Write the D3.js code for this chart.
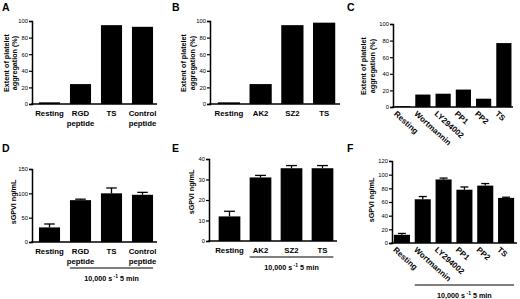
<!DOCTYPE html>
<html>
<head>
<meta charset="utf-8">
<script src="https://cdnjs.cloudflare.com/ajax/libs/d3/7.8.5/d3.min.js"></script>
<style>
  body { margin: 0; background: #fff; }
  svg { display: block; font-family: "Liberation Sans", Arial, sans-serif; }
</style>
</head>
<body>
<svg id="chart" width="520" height="299"></svg>
<script>
// ---- data ----
const catsA = [["Resting"], ["RGD", "peptide"], ["TS"], ["Control", "peptide"]]
const valsA = [2, 24, 95, 93]

const catsB = [["Resting"], ["AK2"], ["SZ2"], ["TS"]]
const valsB = [2, 24, 95, 98]

const catsC = ["Resting", "Wortmannin", "LY294002", "PP1", "PP2", "TS"]
const valsC = [1, 15, 16, 21, 10, 77]

const catsD = catsA
const valsD = [30, 86, 100, 97]
const errD = [7, 2, 11, 5]

const catsE = catsB
const valsE = [12, 31, 35.5, 35.5]
const errE = [2.5, 1, 1.3, 1.3]

const catsF = catsC
const valsF = [12, 64, 93, 78, 84, 66]
const errF = [2, 4, 2, 4, 3, 1]

const ticksAgg = [0, 20, 40, 60, 80, 100]
const ticksD = [0, 50, 100, 150]
const ticksE = [0, 10, 20, 30, 40]
const ticksF = [0, 20, 40, 60, 80, 100, 120]

const aggTitle = ["Extent of platelet", "aggregation (%)"]
const sgpTitle = ["sGPVI ng/mL"]
const shearText = "10,000 s"

const svg = d3.select("#chart")

function drawPanel(p) {
  const g = svg.append("g")

  const x = d3.scaleBand()
    .domain(d3.range(p.vals.length))
    .range([p.x0, p.x1])
    .paddingInner(p.pad)
    .paddingOuter(p.pad / 2)

  const y = d3.scaleLinear()
    .domain([0, p.ymax])
    .range([p.yBottom, p.yTop])

  // panel letter
  g.append("text")
    .attr("x", p.lx).attr("y", p.ly)
    .attr("font-size", 10.5).attr("font-weight", "bold")
    .text(p.letter)

  // bars
  g.selectAll("rect.bar")
    .data(p.vals)
    .enter()
    .append("rect")
      .attr("x", (d, i) => x(i))
      .attr("y", d => y(d))
      .attr("width", x.bandwidth())
      .attr("height", d => y(0) - y(d))
      .attr("fill", "#000")

  // error bars (upper only, GraphPad style)
  if (p.err) {
    const eg = g.append("g").attr("stroke", "#000").attr("stroke-width", 1.3)
    p.vals.forEach((v, i) => {
      const cx = x(i) + x.bandwidth() / 2
      const cw = x.bandwidth() * 0.25
      eg.append("line").attr("x1", cx).attr("x2", cx)
        .attr("y1", y(v)).attr("y2", y(v + p.err[i]))
      eg.append("line").attr("x1", cx - cw).attr("x2", cx + cw)
        .attr("y1", y(v + p.err[i])).attr("y2", y(v + p.err[i]))
    })
  }

  // y axis
  const ya = g.append("g")
    .attr("transform", "translate(" + p.axisX + ",0)")
    .call(d3.axisLeft(y).tickValues(p.ticks).tickSize(3).tickPadding(1))
  ya.select(".domain").attr("stroke-width", 1.5)
  ya.selectAll(".tick line").attr("stroke-width", 1.2)
  ya.selectAll("text").attr("font-size", 5.8).attr("font-family", "Liberation Sans, Arial, sans-serif")

  // x axis line
  g.append("line")
    .attr("x1", p.axisX - 0.75).attr("x2", p.axisEnd)
    .attr("y1", y(0)).attr("y2", y(0))
    .attr("stroke", "#000").attr("stroke-width", 1.5)

  // category labels
  if (p.rotate) {
    p.cats.forEach((c, i) => {
      const cx = x(i) + x.bandwidth() / 2 - 6
      g.append("text")
        .attr("transform", "translate(" + cx + "," + (y(0) + 4) + ") rotate(42)")
        .attr("font-size", 8).attr("font-weight", "bold")
        .attr("dy", "0.6em")
        .text(c)
    })
  } else {
    p.cats.forEach((c, i) => {
      const cx = x(i) + x.bandwidth() / 2
      c.forEach((line, k) => {
        g.append("text")
          .attr("x", cx).attr("y", y(0) + 12 + k * 10)
          .attr("text-anchor", "middle")
          .attr("font-size", 7.8).attr("font-weight", "bold")
          .text(line)
      })
    })
  }

  // y title
  p.title.forEach((line, k) => {
    g.append("text")
      .attr("transform", "translate(" + (p.titleX + k * 8.5) + "," + p.titleY + ") rotate(-90)")
      .attr("text-anchor", "middle")
      .attr("font-size", 7.2).attr("font-weight", "bold")
      .text(line)
  })

  // shear bracket
  if (p.bracket) {
    const bx0 = x(p.bracket[0])
    const bx1 = x(p.bracket[1]) + x.bandwidth()
    g.append("line")
      .attr("x1", bx0).attr("x2", bx1)
      .attr("y1", p.bracketY).attr("y2", p.bracketY)
      .attr("stroke", "#000").attr("stroke-width", 1.2)
    const t = g.append("text")
      .attr("x", (bx0 + bx1) / 2).attr("y", p.bracketY + 13)
      .attr("text-anchor", "middle")
      .attr("font-size", 7.2).attr("font-weight", "bold")
    t.append("tspan").text(shearText)
    t.append("tspan").attr("dy", -3).attr("font-size", 5).text(" -1")
    t.append("tspan").attr("dy", 3).text(" 5 min")
  }
}

drawPanel({ letter: "A", lx: 2, ly: 11, cats: catsA, vals: valsA, ymax: 100, ticks: ticksAgg,
  x0: 34, x1: 158, pad: 0.32, axisX: 32, axisEnd: 157, yBottom: 104, yTop: 21,
  title: aggTitle, titleX: 8.5, titleY: 63 })

drawPanel({ letter: "B", lx: 172, ly: 11, cats: catsB, vals: valsB, ymax: 100, ticks: ticksAgg,
  x0: 213, x1: 340, pad: 0.3, axisX: 210, axisEnd: 340, yBottom: 104, yTop: 21,
  title: aggTitle, titleX: 186, titleY: 63 })

drawPanel({ letter: "C", lx: 347, ly: 11, cats: catsC, vals: valsC, ymax: 100, ticks: ticksAgg,
  x0: 392.5, x1: 514, pad: 0.25, axisX: 393, axisEnd: 513, yBottom: 107, yTop: 24,
  title: aggTitle, titleX: 366, titleY: 66, rotate: true })

drawPanel({ letter: "D", lx: 2, ly: 152, cats: catsD, vals: valsD, err: errD, ymax: 150, ticks: ticksD,
  x0: 34, x1: 158, pad: 0.32, axisX: 32, axisEnd: 157, yBottom: 242, yTop: 169,
  title: sgpTitle, titleX: 16, titleY: 202, bracket: [1, 3], bracketY: 268 })

drawPanel({ letter: "E", lx: 172, ly: 152, cats: catsE, vals: valsE, err: errE, ymax: 40, ticks: ticksE,
  x0: 214, x1: 338, pad: 0.3, axisX: 209, axisEnd: 337, yBottom: 241, yTop: 159,
  title: sgpTitle, titleX: 194, titleY: 192, bracket: [1, 3], bracketY: 257 })

drawPanel({ letter: "F", lx: 347, ly: 152, cats: catsF, vals: valsF, err: errF, ymax: 120, ticks: ticksF,
  x0: 391.5, x1: 516.5, pad: 0.23, axisX: 392, axisEnd: 517, yBottom: 243, yTop: 161,
  title: sgpTitle, titleX: 374, titleY: 200, rotate: true, bracket: [1, 5], bracketY: 285 })
</script>
</body>
</html>
